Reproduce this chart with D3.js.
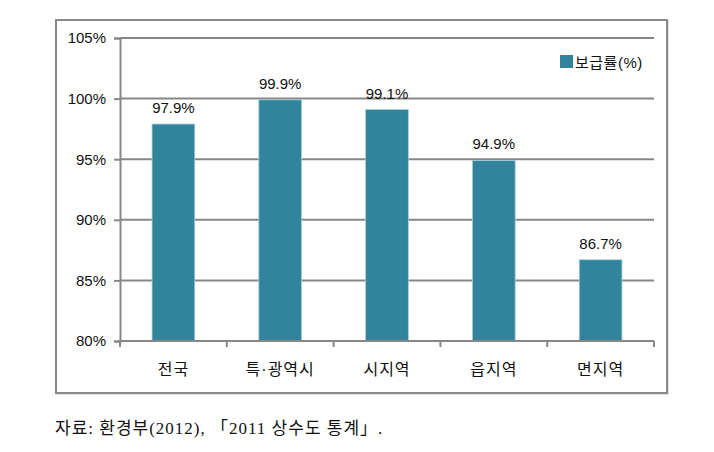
<!DOCTYPE html>
<html><head><meta charset="utf-8">
<script src="https://cdn.jsdelivr.net/npm/d3@7/dist/d3.min.js"></script>
<style>body{margin:0;background:#fff;}svg{display:block;}</style>
</head><body>
<svg id="c" width="714" height="452"></svg>
<script>
const categories = ["전국", "특·광역시", "시지역", "읍지역", "면지역"];
const values = [97.9, 99.9, 99.1, 94.9, 86.7];
const yTicks = [80, 85, 90, 95, 100, 105];
const seriesName = "보급률(%)";
const source = "자료: 환경부(2012), 「2011 상수도 통계」.";

const svg = d3.select("#c");
const font = "'Liberation Sans', 'Noto Sans CJK KR', sans-serif";
const numFont = "'Liberation Sans', 'Noto Sans CJK KR', sans-serif";
const srcFont = "'Liberation Serif', 'Noto Sans CJK KR', serif";
const L = 120, R = 654, T = 38, B = 341;
const barColor = "#31849b";
const gridColor = "#878787";

// outer frame
svg.append("rect").attr("x", 57).attr("y", 21).attr("width", 611).attr("height", 373)
  .attr("fill", "none").attr("stroke", "#e2e2e2").attr("stroke-width", 2);
svg.append("rect").attr("x", 56).attr("y", 20).attr("width", 611).attr("height", 373)
  .attr("fill", "#fff").attr("stroke", "#8a8a8a").attr("stroke-width", 2);

const x = d3.scaleBand().domain(categories).range([L, R]).paddingInner(0.6).paddingOuter(0.3);
const y = d3.scaleLinear().domain([80, 105]).range([B, T]);

// gridlines
svg.append("g").selectAll("line").data(yTicks.filter(d => d > 80)).join("line")
  .attr("x1", L).attr("x2", R).attr("y1", d => y(d)).attr("y2", d => y(d))
  .attr("stroke", gridColor).attr("stroke-width", 2);

// y axis
const yAxis = svg.append("g").attr("transform", `translate(${L},0)`)
  .call(d3.axisLeft(y).tickValues(yTicks).tickSize(6).tickPadding(8).tickFormat(d => d + "%"));
yAxis.select(".domain").attr("stroke", gridColor).attr("stroke-width", 2);
yAxis.selectAll(".tick line").attr("stroke", gridColor).attr("stroke-width", 2);
yAxis.selectAll("text").attr("font-family", numFont).attr("font-size", 15).attr("fill", "#111");

// bars
svg.append("g").selectAll("rect").data(values).join("rect")
  .attr("x", (d, i) => x(categories[i]))
  .attr("width", x.bandwidth())
  .attr("y", d => y(d))
  .attr("height", d => y(80) - y(d))
  .attr("fill", barColor)
  .attr("stroke", "#a9cdd8").attr("stroke-width", 0.8);

// x axis
const xb = d3.scaleLinear().domain([0, categories.length]).range([L, R]);
svg.append("line").attr("x1", L).attr("x2", R).attr("y1", B).attr("y2", B)
  .attr("stroke", gridColor).attr("stroke-width", 2);
svg.append("g").selectAll("line").data(d3.range(categories.length + 1)).join("line")
  .attr("x1", d => xb(d)).attr("x2", d => xb(d)).attr("y1", B).attr("y2", B + 6)
  .attr("stroke", gridColor).attr("stroke-width", 2);
svg.append("g").selectAll("text").data(categories).join("text")
  .attr("x", d => x(d) + x.bandwidth() / 2).attr("y", 375)
  .attr("text-anchor", "middle").attr("font-family", font).attr("font-size", 16)
  .attr("letter-spacing", 1)
  .attr("fill", "#111").text(d => d);

// value labels
svg.append("g").selectAll("text").data(values).join("text")
  .attr("x", (d, i) => x(categories[i]) + x.bandwidth() / 2)
  .attr("y", d => y(d) - 11)
  .attr("text-anchor", "middle").attr("font-family", numFont).attr("font-size", 15)
  .attr("fill", "#111").text(d => d.toFixed(1) + "%");

// legend
svg.append("rect").attr("x", 560).attr("y", 55).attr("width", 13).attr("height", 13).attr("fill", barColor);
svg.append("text").attr("x", 575).attr("y", 68).attr("font-family", font).attr("font-size", 15)
  .attr("letter-spacing", 0.5)
  .attr("fill", "#111").text(seriesName);

// source
svg.append("text").attr("x", 55).attr("y", 434).attr("font-family", srcFont).attr("font-size", 17)
  .attr("letter-spacing", 1)
  .attr("fill", "#111").text(source);
</script>
</body></html>
